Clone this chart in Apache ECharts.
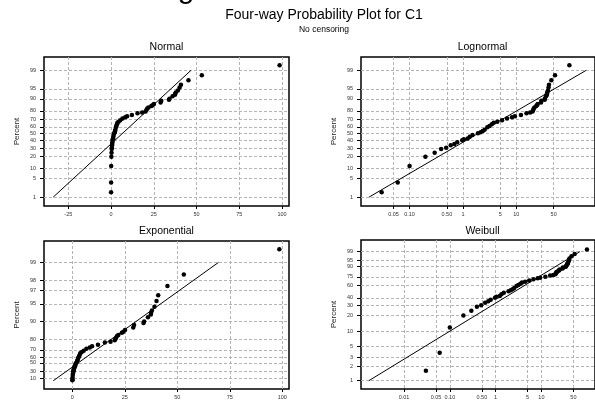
<!DOCTYPE html>
<html>
<head>
<meta charset="utf-8">
<script src="https://cdn.jsdelivr.net/npm/echarts@6/dist/echarts.min.js"></script>
<style>
  html, body { margin: 0; padding: 0; background: #fff; }
  #chart { width: 595px; height: 401px; }
</style>
</head>
<body>
<div id="chart"></div>
<script>
const obsValues = [
    0.030, 0.060, 0.10, 0.198, 0.295, 0.39, 0.485, 0.59, 0.69, 0.78,
    0.97, 1.04, 1.23, 1.34, 1.51, 1.91, 2.14, 2.35, 2.55, 2.86,
    3.14, 3.47, 3.77, 4.4, 5.4, 6.7, 8.3, 9.4, 12.2, 15.5,
    18.2, 20.2, 20.7, 21.2, 21.9, 23.6, 24.3, 25.1, 29.0, 29.4,
    33.9, 34.2, 36.0, 37.4, 37.5, 37.9, 39.1, 40.1, 40.9, 45.3,
    53.1, 98.6
];
const obsPercents = [
    1.6, 3.7, 11.8, 19.9, 24.3, 28.7, 30.4, 33.5, 35.3, 37.6,
    40.4, 41.8, 43.0, 45.6, 48.1, 50.6, 52.0, 54.0, 55.8, 59.3,
    61.0, 63.5, 65.7, 67.0, 69.0, 71.2, 72.6, 73.8, 75.5, 77.4,
    78.1, 79.3, 80.8, 82.3, 83.1, 84.5, 85.2, 86.2, 87.4, 88.6,
    89.4, 90.0, 91.6, 92.4, 92.9, 93.5, 94.4, 95.5, 96.4, 97.5,
    98.4, 99.4
];

// fitted lines: [value, percent] end points
const normalFit = [[-33.8, 1], [46.8, 99]];
const lognormalFit = [[0.0174, 1], [204, 99]];
const exponentialFit = [[-9.1, 0], [69.6, 99]];
const weibullFit = [[0.0017, 1], [69.2, 99]];

// tick labels
const normalXTicks = [-25, 0, 25, 50, 75, 100];
const exponentialXTicks = [0, 25, 50, 75, 100];
const lognormalXTicks = [0.05, 0.1, 0.5, 1, 5, 10, 50];
const lognormalXLabels = ['0.05', '0.10', '0.50', '1', '5', '10', '50'];
const weibullXTicks = [0.01, 0.05, 0.1, 0.5, 1, 5, 10, 50];
const weibullXLabels = ['0.01', '0.05', '0.10', '0.50', '1', '5', '10', '50'];
const normalPctTicks = [1, 5, 10, 20, 30, 40, 50, 60, 70, 80, 90, 95, 99];
const exponentialPctTicks = [10, 30, 50, 60, 70, 80, 90, 95, 97, 98, 99];
const weibullPctTicks = [1, 2, 3, 5, 10, 20, 30, 40, 60, 75, 90, 95, 99];

const FONT = '"Liberation Sans", Arial, sans-serif';

// inverse normal cdf (Acklam)
const probit = (p) => {
    const a = [-39.69683028665376, 220.9460984245205, -275.9285104469687, 138.3577518672690, -30.66479806614716, 2.506628277459239];
    const b = [-54.47609879822406, 161.5858367580409, -155.6989798598866, 66.80131188771972, -13.28068155288572];
    const c = [-0.007784894002430293, -0.3223964580411365, -2.400758277161838, -2.549732539343734, 4.374664141464968, 2.938163982698783];
    const d = [0.007784695709041462, 0.3224671290700398, 2.445134137142996, 3.754408661907416];
    const lo = 0.02425;
    if (p < lo) {
        const q = Math.sqrt(-2 * Math.log(p));
        return (((((c[0] * q + c[1]) * q + c[2]) * q + c[3]) * q + c[4]) * q + c[5]) / ((((d[0] * q + d[1]) * q + d[2]) * q + d[3]) * q + 1);
    }
    if (p <= 1 - lo) {
        const q = p - 0.5, r = q * q;
        return (((((a[0] * r + a[1]) * r + a[2]) * r + a[3]) * r + a[4]) * r + a[5]) * q / (((((b[0] * r + b[1]) * r + b[2]) * r + b[3]) * r + b[4]) * r + 1);
    }
    const q = Math.sqrt(-2 * Math.log(1 - p));
    return -(((((c[0] * q + c[1]) * q + c[2]) * q + c[3]) * q + c[4]) * q + c[5]) / ((((d[0] * q + d[1]) * q + d[2]) * q + d[3]) * q + 1);
};

const scales = {
    lin: (v) => v,
    log: (v) => Math.log10(v),
    norm: (pct) => probit(pct / 100),
    expo: (pct) => -Math.log(1 - pct / 100),
    weib: (pct) => Math.log(-Math.log(1 - pct / 100)),
};

// nearest label for a transformed tick position
const labeller = (ticks, labels, fn) => {
    const pos = ticks.map(fn);
    return (val) => {
        let best = 0;
        pos.forEach((p, i) => { if (Math.abs(p - val) < Math.abs(pos[best] - val)) best = i; });
        return labels[best];
    };
};

const splitStyle = { show: true, lineStyle: { color: '#b4b4b4', width: 1, type: [3, 2] } };

const makeX = (gridIndex, min, max, ticks, labels, fn) => ({
    gridIndex, type: 'value', min, max,
    axisLine: { show: false, onZero: false },
    axisTick: { show: true, customValues: ticks.map(fn), length: 3, lineStyle: { color: '#000' } },
    axisLabel: {
        customValues: ticks.map(fn), formatter: labeller(ticks, labels, fn),
        fontSize: 5.5, color: '#333', margin: 5, fontFamily: FONT,
    },
    splitLine: splitStyle,
});

const makeY = (gridIndex, min, max, ticks, fn) => ({
    gridIndex, type: 'value', min, max,
    name: 'Percent', nameLocation: 'middle', nameGap: 23,
    nameTextStyle: { fontSize: 8, color: '#222', fontFamily: FONT },
    axisLine: { show: false, onZero: false },
    axisTick: { show: true, customValues: ticks.map(fn), length: 4, lineStyle: { color: '#000' } },
    axisLabel: {
        customValues: ticks.map(fn), formatter: labeller(ticks, ticks.map(String), fn),
        fontSize: 5.5, color: '#333', margin: 8, fontFamily: FONT,
    },
    splitLine: splitStyle,
});

const panels = [
    { title: 'Normal', fx: scales.lin, fy: scales.norm, fit: normalFit },
    { title: 'Lognormal', fx: scales.log, fy: scales.norm, fit: lognormalFit },
    { title: 'Exponential', fx: scales.lin, fy: scales.expo, fit: exponentialFit },
    { title: 'Weibull', fx: scales.log, fy: scales.weib, fit: weibullFit },
];

const grids = [
    { left: 44, top: 57, width: 245, height: 149 },
    { left: 361, top: 57, width: 243, height: 149 },
    { left: 44, top: 241, width: 245, height: 148 },
    { left: 361, top: 240, width: 243, height: 149 },
].map((g) => ({ ...g, show: true, backgroundColor: '#fff', borderColor: '#000', borderWidth: 1.5 }));

const xAxes = [
    makeX(0, -39.2, 104.1, normalXTicks, normalXTicks.map(String), scales.lin),
    makeX(1, -1.91, 2.474, lognormalXTicks, lognormalXLabels, scales.log),
    makeX(2, -13.5, 103.2, exponentialXTicks, exponentialXTicks.map(String), scales.lin),
    makeX(3, -2.94, 2.17, weibullXTicks, weibullXLabels, scales.log),
];

const yAxes = [
    makeY(0, -2.652, 2.814, normalPctTicks, scales.norm),
    makeY(1, -2.652, 2.814, normalPctTicks, scales.norm),
    makeY(2, -0.32, 5.44, exponentialPctTicks, scales.expo),
    makeY(3, -4.994, 2.08, weibullPctTicks, scales.weib),
];

const series = [];
panels.forEach((panel, i) => {
    series.push({
        type: 'scatter', xAxisIndex: i, yAxisIndex: i,
        symbolSize: 4.5, itemStyle: { color: '#000', opacity: 1 }, z: 3,
        data: obsValues.map((v, k) => [panel.fx(v), panel.fy(obsPercents[k])]),
    });
    series.push({
        type: 'line', xAxisIndex: i, yAxisIndex: i,
        showSymbol: false, lineStyle: { color: '#000', width: 1 }, z: 2,
        data: panel.fit.map(([v, p]) => [panel.fx(v), panel.fy(p)]),
    });
});

const titleText = (x, y, text, size) => ({
    type: 'text', x, y,
    style: { text, fill: '#000', font: `${size}px ${FONT}`, textAlign: 'center', textVerticalAlign: 'middle' },
});

const chart = echarts.init(document.getElementById('chart'), null, { renderer: 'canvas' });
chart.setOption({
    animation: false,
    backgroundColor: '#fff',
    grid: grids,
    xAxis: xAxes,
    yAxis: yAxes,
    series,
    graphic: [
        titleText(186, -10, 'g', 30),
        titleText(324, 15, 'Four-way Probability Plot for C1', 14),
        titleText(324, 29.5, 'No censoring', 8.5),
        titleText(166.5, 47.5, 'Normal', 10.5),
        titleText(482.5, 47.5, 'Lognormal', 10.5),
        titleText(166.5, 231.5, 'Exponential', 10.5),
        titleText(482.5, 231.5, 'Weibull', 10.5),
    ],
});
</script>
</body>
</html>
